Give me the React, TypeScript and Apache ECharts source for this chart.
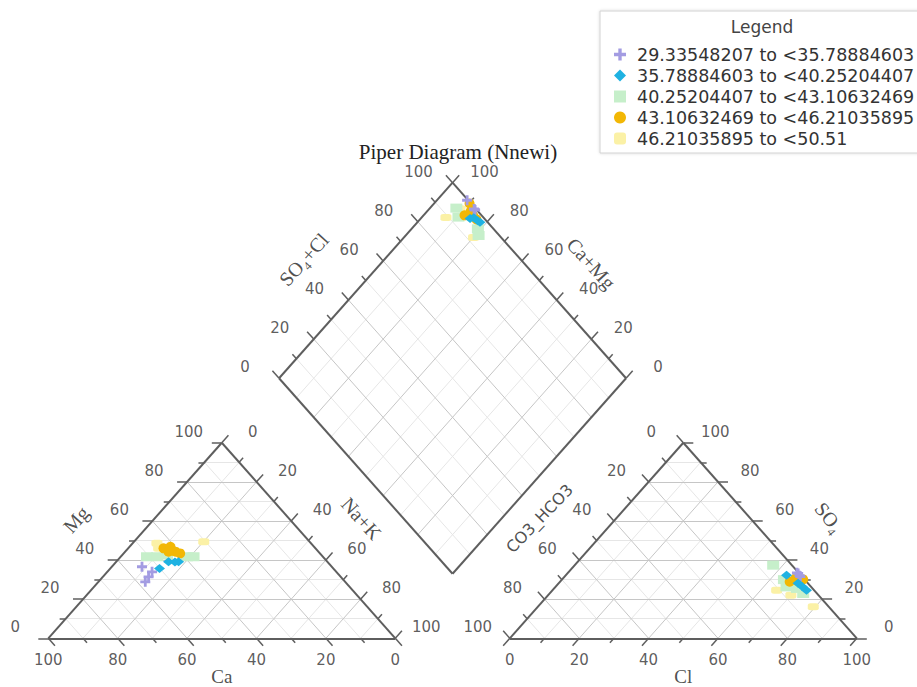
import React, { useEffect, useRef } from "react";
import * as echarts from "echarts";

// ---------------- data ----------------
const legendLabels = [
  "29.33548207 to <35.78884603",
  "35.78884603 to <40.25204407",
  "40.25204407 to <43.10632469",
  "43.10632469 to <46.21035895",
  "46.21035895 to <50.51",
];

// percentages (meq %) per sample, grouped by legend class
const g1Ca = [54.7, 53.1, 55.4, 57.6];
const g1Mg = [36.6, 34.0, 31.4, 28.9];
const g1Cl = [66.5, 67.5, 66.0, 68.0];
const g1SO4 = [33.2, 32.0, 33.5, 31.5];

const g2Ca = [50.1, 45.8, 42.9, 44.0];
const g2Mg = [35.7, 39.1, 39.1, 39.0];
const g2Cl = [63.6, 69.0, 73.2, 71.0];
const g2SO4 = [32.3, 28.1, 24.6, 26.5];

const g3Ca = [50.7, 47.8, 44.5, 39.2, 37.3];
const g3Mg = [41.7, 41.7, 42.6, 41.7, 41.7];
const g3Cl = [57.2, 66.6, 73.1, 70.0, 64.0];
const g3SO4 = [37.4, 26.3, 22.9, 25.5, 30.0];

const g4Ca = [43.8, 41.4, 41.2, 40.3, 43.2];
const g4Mg = [46.0, 46.8, 44.3, 43.4, 44.3];
const g4Cl = [69.5, 66.2, 68.0, 67.0, 69.0];
const g4SO4 = [30.1, 28.9, 29.5, 30.5, 29.0];

const g5Ca = [44.4, 45.2, 30.5];
const g5Mg = [48.6, 46.0, 49.4];
const g5Cl = [64.6, 79.4, 70.0];
const g5SO4 = [24.6, 16.1, 22.0];

const tickLabels = [0, 20, 40, 60, 80, 100];
const gridSteps = [0, 10, 20, 30, 40, 50, 60, 70, 80, 90, 100];

const chartTitle = "Piper Diagram (Nnewi)";

// ---------------- styles ----------------
const groupColors = ["#a39ce2", "#1fb2e2", "#c6efca", "#f2b705", "#fbf1a6"];
const groupSymbols = [
  "path://M3.6,0H6.4V3.6H10V6.4H6.4V10H3.6V6.4H0V3.6H3.6Z",
  "diamond",
  "rect",
  "circle",
  "roundRect",
];
const groupSizes: any[] = [10, [11, 9], [12, 9], 10, [11, 7]];
const groupZ = [13, 14, 11, 12, 10];

// ---------------- geometry ----------------
const H = Math.sqrt(3) / 2;
const GAP = 0.33;
const OX = 1 + GAP;
const DBX = 1 + GAP / 2;
const DBY = GAP * H;
const SX = 347; // px per unit (x)
const SY = 225.8; // px per unit (y)
const X0 = 48.3;
const Y0 = 638.3;
const W = 917;
const HH = 687;

const cat = (ca: number, mg: number) => {
  const nak = 100 - ca - mg;
  return [(nak + mg / 2) / 100, (mg / 100) * H];
};
const ani = (cl: number, so4: number) => [OX + (cl + so4 / 2) / 100, (so4 / 100) * H];
const dia = (a: number, c: number) => [DBX + 0.5 * (a - c), DBY + H * (a + c)];

type P = number[];
type Seg = [P, P];

function tickSeg(p: P, dir: P, len: number): Seg {
  const dx = dir[0] * SX;
  const dy = dir[1] * SY;
  const d = Math.hypot(dx, dy);
  return [p, [p[0] + ((dx / d) * len) / SX, p[1] + ((dy / d) * len) / SY]];
}

// label offsets are applied in the rotated frame; convert a screen offset
function localOffset(dx: number, dy: number, rotDeg: number) {
  const t = (rotDeg * Math.PI) / 180;
  return [Math.cos(t) * dx - Math.sin(t) * dy, Math.sin(t) * dx + Math.cos(t) * dy];
}

interface Family {
  p: (v: number) => P;
  q: (v: number) => P;
  dir: P;
  offset: [number, number];
}

const families: Family[] = [
  // left triangle: Mg (left edge)
  { p: (v) => [v / 2, v * H], q: (v) => [1 - v / 2, v * H], dir: [-1, 0], offset: [-33, -11] },
  // Ca (bottom)
  { p: (v) => [1 - v, 0], q: (v) => [(1 - v) / 2, (1 - v) * H], dir: [0.5, -H], offset: [0, 22] },
  // Na+K (right edge)
  { p: (v) => [0.5 + v / 2, (1 - v) * H], q: (v) => [v, 0], dir: [0.5, H], offset: [31, -11] },
  // right triangle: SO4 (right edge)
  { p: (v) => [OX + 1 - v / 2, v * H], q: (v) => [OX + v / 2, v * H], dir: [1, 0], offset: [32, -11] },
  // Cl (bottom)
  { p: (v) => [OX + v, 0], q: (v) => [OX + v + (1 - v) / 2, (1 - v) * H], dir: [-0.5, -H], offset: [0, 22] },
  // CO3_HCO3 (left edge)
  { p: (v) => [OX + (1 - v) / 2, (1 - v) * H], q: (v) => [OX + 1 - v, 0], dir: [-0.5, H], offset: [-32, -11] },
  // diamond: SO4+Cl (upper-left edge)
  { p: (v) => dia(v, 1), q: (v) => dia(v, 0), dir: [-0.5, H], offset: [-34, -11] },
  // diamond: Ca+Mg (upper-right edge)
  { p: (v) => dia(1, v), q: (v) => dia(0, v), dir: [0.5, H], offset: [32, -11] },
];

function buildOption() {
  const edges: Seg[] = [];
  const major: Seg[] = [];
  const minor: Seg[] = [];
  const ticks: Seg[] = [];

  const polys: P[][] = [
    [[0, 0], [1, 0], [0.5, H]],
    [[OX, 0], [OX + 1, 0], [OX + 0.5, H]],
    [dia(0, 0), dia(1, 0), dia(1, 1), dia(0, 1)],
  ];
  polys.forEach((poly) => {
    poly.forEach((pt, i) => edges.push([pt, poly[(i + 1) % poly.length]]));
  });

  families.forEach((f) => {
    gridSteps.forEach((s) => {
      const v = s / 100;
      const isMajor = s % 20 === 0;
      if (s > 0 && s < 100) (isMajor ? major : minor).push([f.p(v), f.q(v)]);
      ticks.push(tickSeg(f.p(v), f.dir, isMajor ? 10 : 6));
    });
  });

  const lineSeries = (name: string, segs: Seg[], color: string, width: number, z: number) => ({
    type: "lines",
    name,
    coordinateSystem: "cartesian2d",
    polyline: false,
    silent: true,
    z,
    lineStyle: { color, width, opacity: 1, type: "solid" },
    data: segs.map((s) => ({ coords: s })),
  });

  const labelSeries: any[] = families.map((f, i) => ({
    type: "scatter",
    name: "ticklabels" + i,
    silent: true,
    symbol: "circle",
    symbolSize: 1,
    itemStyle: { color: "rgba(0,0,0,0)" },
    z: 6,
    data: tickLabels.map((t) => ({ value: f.p(t / 100), label: { formatter: String(t) } })),
    label: {
      show: true,
      position: "inside",
      offset: f.offset,
      color: "#333",
      fontFamily: "DejaVu Sans",
      fontSize: 15,
      lineHeight: 15,
      align: "center",
      verticalAlign: "middle",
    },
  }));

  const serif = "Liberation Serif";
  const titles = [
    { name: "Mg", p: [0.25, 0.5 * H], off: [-59, -21], rotate: 48, font: serif, size: 20 },
    { name: "Na+K", p: [0.75, 0.5 * H], off: [53, -22], rotate: -48, font: serif, size: 20 },
    { name: "Ca", p: [0.5, 0], off: [0, 38], rotate: 0, font: serif, size: 19 },
    { name: "CO3_HCO3", p: [OX + 0.25, 0.5 * H], off: [-57, -22], rotate: 46, font: "DejaVu Sans", size: 16 },
    { name: "SO\u2084", p: [OX + 0.75, 0.5 * H], off: [59, -23], rotate: -52, font: serif, size: 20 },
    { name: "Cl", p: [OX + 0.5, 0], off: [0, 38], rotate: 0, font: serif, size: 19 },
    { name: "SO\u2084+Cl", p: dia(0.5, 1), off: [-62, -21], rotate: 48, font: serif, size: 20 },
    { name: "Ca+Mg", p: dia(1, 0.5), off: [52, -17], rotate: -48, font: serif, size: 20 },
  ];
  const titleSeries = {
    type: "scatter",
    name: "axistitles",
    silent: true,
    symbol: "circle",
    symbolSize: 1,
    itemStyle: { color: "rgba(0,0,0,0)" },
    z: 6,
    data: titles.map((t) => ({
      value: t.p,
      label: {
        formatter: t.name,
        offset: localOffset(t.off[0], t.off[1], t.rotate),
        rotate: t.rotate,
        fontFamily: t.font,
        fontSize: t.size,
        lineHeight: t.size,
      },
    })),
    label: { show: true, position: "inside", color: "#222", align: "center", verticalAlign: "middle" },
  };

  const groups = [
    [g1Ca, g1Mg, g1Cl, g1SO4],
    [g2Ca, g2Mg, g2Cl, g2SO4],
    [g3Ca, g3Mg, g3Cl, g3SO4],
    [g4Ca, g4Mg, g4Cl, g4SO4],
    [g5Ca, g5Mg, g5Cl, g5SO4],
  ];
  const pointSeries = groups.map(([ca, mg, cl, so4], gi) => {
    const data: P[] = [];
    ca.forEach((c, i) => data.push(cat(c, mg[i])));
    cl.forEach((c, i) => data.push(ani(c, so4[i])));
    ca.forEach((c, i) => data.push(dia((cl[i] + so4[i]) / 100, (c + mg[i]) / 100)));
    return {
      type: "scatter",
      name: legendLabels[gi],
      symbol: groupSymbols[gi],
      symbolSize: groupSizes[gi],
      itemStyle: { color: groupColors[gi], opacity: 1 },
      z: groupZ[gi],
      data,
    };
  });

  const xMin = -X0 / SX;
  const yMax = Y0 / SY;

  return {
    animation: false,
    textStyle: { fontFamily: "DejaVu Sans" },
    title: {
      text: chartTitle,
      left: 453,
      top: 136,
      textAlign: "center",
      textStyle: { fontFamily: serif, fontSize: 21, fontWeight: "normal", color: "#222" },
    },
    grid: { left: 0, right: 0, top: 0, bottom: 0 },
    xAxis: { type: "value", min: xMin, max: xMin + W / SX, show: false },
    yAxis: { type: "value", min: yMax - HH / SY, max: yMax, show: false },
    legend: {
      data: legendLabels,
      orient: "vertical",
      left: 609,
      top: 40,
      itemWidth: 12,
      itemHeight: 12,
      itemGap: 2,
      selectedMode: false,
      textStyle: { fontFamily: "DejaVu Sans", fontSize: 17.5, color: "#333", lineHeight: 19, padding: [0, 0, 0, 6] },
    },
    graphic: [
      {
        type: "rect",
        z: -1,
        shape: { x: 600, y: 11, width: 330, height: 142 },
        style: { fill: "#fff", stroke: "#d2d2d2", lineWidth: 1, shadowBlur: 3, shadowColor: "rgba(0,0,0,0.15)" },
      },
      {
        type: "text",
        z: 1,
        x: 762,
        y: 27,
        style: {
          text: "Legend",
          fill: "#444",
          font: "17px 'DejaVu Sans'",
          align: "center",
          verticalAlign: "middle",
        },
      },
    ],
    series: [
      lineSeries("minor", minor, "#e6e6e6", 1, 1),
      lineSeries("major", major, "#c6c6c6", 1, 2),
      lineSeries("ticks", ticks, "#5e5e5e", 1.5, 3),
      lineSeries("edges", edges, "#5e5e5e", 2, 4),
      ...labelSeries,
      titleSeries,
      ...pointSeries,
    ],
  };
}

export default function App() {
  const ref = useRef<HTMLDivElement>(null);
  useEffect(() => {
    if (!ref.current) return;
    const chart = echarts.init(ref.current, undefined, { renderer: "svg" });
    chart.setOption(buildOption() as any);
    return () => chart.dispose();
  }, []);
  return (
    <div
      ref={ref}
      style={{ position: "absolute", left: 0, top: 0, width: W, height: HH, background: "#fff" }}
    />
  );
}
